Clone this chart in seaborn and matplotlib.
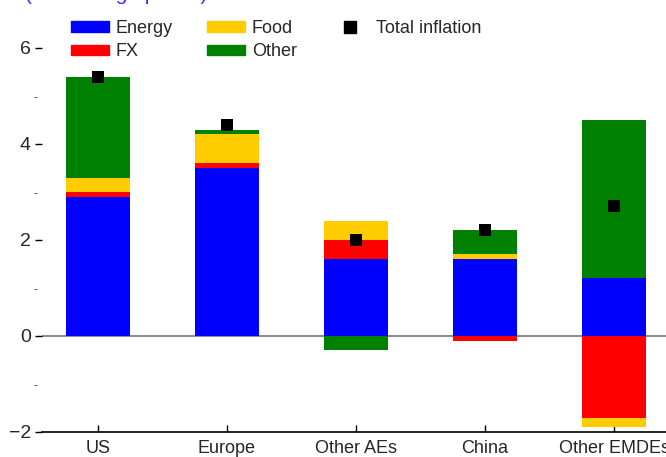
import matplotlib
matplotlib.use("Agg")
import matplotlib.pyplot as plt
import matplotlib.patches as mpatches
import matplotlib.lines as mlines
import numpy as np
import pandas as pd
import seaborn as sns

# data (percentage points)
regions = ["US", "Europe", "Other AEs", "China", "Other EMDEs"]
energy = [2.9, 3.5, 1.6, 1.6, 1.2]
fx = [0.1, 0.1, 0.4, -0.1, -1.7]
food = [0.3, 0.6, 0.4, 0.1, -0.2]
other = [2.1, 0.1, -0.3, 0.5, 3.3]
total = [5.4, 4.4, 2.0, 2.2, 2.7]

components = ["Energy", "FX", "Food", "Other"]
colors = {"Energy": "#0000FF", "FX": "#FF0000", "Food": "#FFCC00", "Other": "#008000"}

sns.set_style("white")
plt.rcParams["font.family"] = ["Liberation Sans", "DejaVu Sans"]

df = pd.DataFrame({"region": regions, "Energy": energy, "FX": fx,
                   "Food": food, "Other": other, "total": total})

fig = plt.figure(figsize=(6.66, 4.57), dpi=100)
ax = fig.add_axes([42 / 666, 25 / 457, 624 / 666, 432 / 457])

# stack positives and negatives separately
pos_base = np.zeros(len(regions))
neg_base = np.zeros(len(regions))
for comp in components:
    vals = df[comp].to_numpy()
    bottoms = np.where(vals >= 0, pos_base, neg_base)
    sns.barplot(x=df["region"], y=vals, bottom=bottoms, color=colors[comp],
                width=0.5, saturation=1, linewidth=0, ax=ax)
    pos_base = pos_base + np.where(vals >= 0, vals, 0)
    neg_base = neg_base + np.where(vals < 0, vals, 0)

sns.scatterplot(x=np.arange(len(regions)), y=df["total"], marker="s", s=75,
                color="black", edgecolor="black", linewidth=0, zorder=5, ax=ax)

ax.axhline(0, color="#808080", lw=1.3, zorder=0)

ax.set_xlim(-0.434, 4.403)
ax.set_ylim(-2, 7)
ax.set_yticks([-2, 0, 2, 4, 6])
ax.set_yticklabels(["\u22122", "0", "2", "4", "6"])
ax.set_yticks([-1, 1, 3, 5], minor=True)
ax.set_yticklabels(["-"] * 4, minor=True)
ax.set_xticks(range(len(regions)))
ax.set_xticklabels(regions)
ax.set_xlabel("")
ax.set_ylabel("")

ax.tick_params(axis="y", which="major", direction="out", length=5, width=1,
               color="black", labelsize=14, pad=3, left=True)
ax.tick_params(axis="y", which="minor", length=0, labelsize=8, pad=3.5, left=True)
ax.tick_params(axis="x", direction="in", length=5, width=1, color="black",
               labelsize=13, pad=6, bottom=True)

for s in ["left", "top", "right"]:
    ax.spines[s].set_visible(False)
ax.spines["bottom"].set_color("black")
ax.spines["bottom"].set_linewidth(1.2)

# legend: Energy/FX, Food/Other, Total inflation
handles = [
    mpatches.Patch(color=colors["Energy"], label="Energy"),
    mpatches.Patch(color=colors["FX"], label="FX"),
    mpatches.Patch(color=colors["Food"], label="Food"),
    mpatches.Patch(color=colors["Other"], label="Other"),
    mlines.Line2D([], [], color="black", marker="s", markersize=8.5, linestyle="None",
                  label="Total inflation"),
]
ax.legend(handles=handles, ncol=3, loc="upper left", bbox_to_anchor=(71 / 666, 1 - 20 / 457),
          bbox_transform=fig.transFigure, frameon=False, fontsize=13,
          handlelength=2.1, handleheight=0.5, handletextpad=0.38,
          columnspacing=1.9, labelspacing=0.35, borderpad=0, borderaxespad=0)

fig.text(25 / 666, 1.0, "(Percentage points)", color="#3333FF", fontsize=15,
         va="baseline", ha="left")

fig.savefig("out.png", dpi=100)
